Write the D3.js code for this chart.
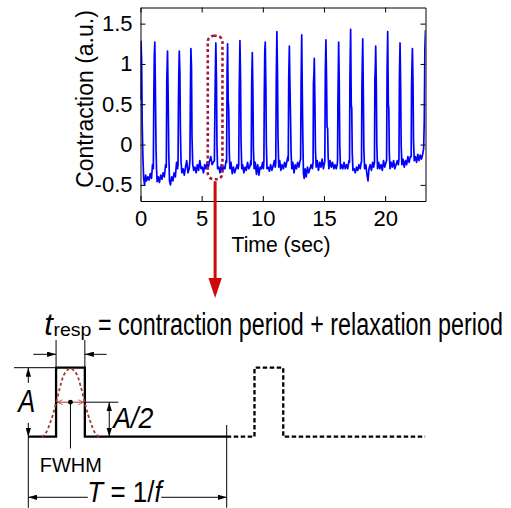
<!DOCTYPE html>
<html>
<head>
<meta charset="utf-8">
<script src="https://cdn.jsdelivr.net/npm/d3@7"></script>
<style>
  body { margin: 0; background: #fff; }
  svg { display: block; }
  text { font-family: "Liberation Sans", Arial, sans-serif; fill: #000; }
</style>
</head>
<body>
<div id="chart"></div>
<script>
// contraction trace: [time (sec), contraction (a.u.)]
const contraction = [
  [0.00,0.55],[0.04,1.28],[0.09,1.05],[0.14,0.25],[0.19,-0.12],[0.26,-0.42],[0.33,-0.5],[0.42,-0.38],[0.5,-0.45],[0.6,-0.4],[0.7,-0.44],[0.8,-0.36],[0.9,-0.42],[0.98,-0.25],
  [1.05,-0.3],[1.09,0.6],[1.13,1.1],[1.17,1.27],[1.22,0.65],[1.27,-0.05],[1.31,-0.3],[1.36,-0.46],[1.45,-0.4],[1.55,-0.47],[1.65,-0.38],[1.75,-0.43],[1.85,-0.35],[1.95,-0.4],[2.05,-0.25],
  [2.11,-0.28],[2.15,0.8],[2.21,1.16],[2.26,0.6],[2.31,-0.1],[2.37,-0.45],[2.45,-0.5],[2.55,-0.4],[2.65,-0.45],[2.75,-0.35],[2.85,-0.4],[2.95,-0.22],[3.02,-0.3],
  [3.07,-0.25],[3.10,0.5],[3.13,0.85],[3.17,1.16],[3.22,0.9],[3.26,0.2],[3.31,-0.2],[3.38,-0.35],[3.48,-0.3],[3.58,-0.38],[3.68,-0.28],[3.78,-0.2],[3.88,-0.35],[3.98,-0.3],
  [4.04,-0.2],[4.08,0.6],[4.12,1.19],[4.17,0.95],[4.21,0.1],[4.27,-0.25],[4.35,-0.32],[4.45,-0.28],[4.55,-0.35],[4.65,-0.25],[4.75,-0.32],[4.85,-0.2],[4.95,-0.3],[5.05,-0.28],[5.15,-0.35],[5.25,-0.25],[5.35,-0.3],[5.45,-0.22],[5.55,-0.28],[5.65,-0.2],[5.75,-0.15],[5.85,-0.25],[5.95,-0.22],
  [6.04,-0.2],[6.08,0.4],[6.12,0.9],[6.16,1.26],[6.21,0.8],[6.25,0.0],[6.3,-0.3],[6.4,-0.28],[6.5,-0.35],[6.6,-0.25],[6.7,-0.33],[6.8,-0.28],[6.9,-0.3],[7.0,-0.2],
  [7.04,-0.22],[7.08,0.9],[7.12,1.25],[7.17,0.55],[7.21,0.45],[7.26,-0.1],[7.31,-0.3],[7.4,-0.22],[7.5,-0.36],[7.6,-0.28],[7.7,-0.35],[7.8,-0.3],[7.9,-0.25],[7.98,-0.3],
  [8.03,-0.25],[8.07,0.65],[8.1,0.97],[8.13,1.29],[8.18,0.8],[8.22,0.05],[8.28,-0.3],[8.35,-0.25],[8.45,-0.35],[8.55,-0.28],[8.65,-0.32],[8.75,-0.22],[8.85,-0.3],[8.95,-0.27],[9.02,-0.2],
  [9.05,-0.25],[9.09,0.75],[9.14,1.14],[9.19,0.65],[9.23,-0.05],[9.29,-0.3],[9.38,-0.22],[9.48,-0.37],[9.58,-0.25],[9.68,-0.38],[9.78,-0.28],[9.88,-0.3],[9.98,-0.22],[10.05,-0.3],
  [10.09,-0.2],[10.12,0.6],[10.16,1.16],[10.2,1.27],[10.25,0.7],[10.29,0.0],[10.34,-0.3],[10.44,-0.28],[10.54,-0.33],[10.64,-0.25],[10.74,-0.32],[10.84,-0.27],[10.94,-0.2],[11.02,-0.28],
  [11.06,-0.22],[11.1,0.8],[11.15,1.4],[11.2,0.9],[11.24,0.1],[11.3,-0.28],[11.38,-0.2],[11.48,-0.32],[11.58,-0.25],[11.68,-0.3],[11.78,-0.22],[11.88,-0.28],[11.98,-0.2],[12.05,-0.15],
  [12.08,-0.2],[12.12,0.85],[12.17,1.22],[12.22,0.72],[12.27,0.3],[12.31,-0.1],[12.37,-0.3],[12.45,-0.22],[12.55,-0.35],[12.65,-0.25],[12.75,-0.3],[12.85,-0.22],[12.95,-0.28],[13.05,-0.2],
  [13.09,-0.18],[13.13,0.77],[13.18,1.36],[13.23,0.6],[13.27,0.1],[13.32,-0.35],[13.38,-0.42],[13.46,-0.3],[13.55,-0.4],[13.65,-0.28],[13.75,-0.35],[13.85,-0.3],[13.95,-0.25],[14.05,-0.3],
  [14.11,-0.22],[14.14,0.76],[14.18,0.88],[14.21,1.07],[14.26,0.5],[14.3,-0.05],[14.36,-0.28],[14.45,-0.2],[14.55,-0.32],[14.65,-0.22],[14.75,-0.28],[14.85,-0.18],[14.95,-0.3],[15.05,-0.22],
  [15.07,-0.2],[15.11,0.9],[15.16,1.3],[15.21,0.8],[15.25,0.22],[15.3,0.2],[15.34,-0.15],[15.4,-0.3],[15.5,-0.2],[15.6,-0.28],[15.7,-0.22],[15.8,-0.3],[15.9,-0.25],[16.0,-0.3],[16.08,-0.25],
  [16.11,-0.2],[16.14,0.52],[16.17,0.9],[16.2,1.27],[16.25,0.75],[16.29,0.0],[16.35,-0.3],[16.44,-0.25],[16.54,-0.3],[16.64,-0.22],[16.74,-0.3],[16.84,-0.25],[16.94,-0.3],[17.04,-0.2],
  [17.09,-0.22],[17.12,0.8],[17.15,1.14],[17.18,1.43],[17.23,0.5],[17.27,0.45],[17.31,-0.1],[17.37,-0.32],[17.46,-0.3],[17.56,-0.35],[17.66,-0.28],[17.76,-0.32],[17.86,-0.25],[17.96,-0.3],[18.04,-0.22],
  [18.07,-0.22],[18.1,0.7],[18.13,0.97],[18.17,1.31],[18.22,0.6],[18.26,-0.05],[18.32,-0.3],[18.42,-0.25],[18.52,-0.38],[18.6,-0.45],[18.68,-0.3],[18.78,-0.25],[18.88,-0.32],[18.98,-0.22],[19.06,-0.28],
  [19.13,-0.22],[19.16,0.8],[19.2,0.97],[19.23,1.22],[19.28,0.7],[19.32,0.0],[19.38,-0.3],[19.47,-0.22],[19.57,-0.3],[19.67,-0.25],[19.77,-0.32],[19.87,-0.2],[19.97,-0.28],[20.07,-0.22],
  [20.12,-0.2],[20.16,0.9],[20.21,1.4],[20.26,0.5],[20.3,0.45],[20.34,-0.1],[20.4,-0.3],[20.49,-0.22],[20.59,-0.28],[20.69,-0.2],[20.79,-0.3],[20.89,-0.25],[20.99,-0.2],[21.08,-0.25],
  [21.13,-0.18],[21.17,0.85],[21.22,1.26],[21.27,0.7],[21.31,0.0],[21.37,-0.25],[21.46,-0.18],[21.56,-0.28],[21.66,-0.2],[21.76,-0.25],[21.86,-0.15],[21.96,-0.22],[22.06,-0.15],
  [22.13,-0.15],[22.16,0.7],[22.19,0.95],[22.23,1.19],[22.28,0.75],[22.32,0.05],[22.38,-0.2],[22.47,-0.15],[22.57,-0.22],[22.67,-0.12],[22.77,-0.2],[22.87,-0.13],[22.97,-0.18],[23.07,-0.12],[23.15,-0.05],
  [23.2,0.3],[23.25,1.2],[23.3,1.42]
];

const xTicks = [0, 5, 10, 15, 20];
const yTicks = [-0.5, 0, 0.5, 1, 1.5];
const xAxisTitle = 'Time (sec)';
const yAxisTitle = 'Contraction (a.u.)';

// zoomed-in window: [t0, t1, v0, v1]
const highlight = [5.5, 6.7, -0.43, 1.35];

// schematic, in units of one period (x) and amplitude A (y)
const pulse = [[0, 0], [0.14, 0], [0.14, 1], [0.285, 1], [0.285, 0], [1, 0]];
const pulseNext = [[1, 0], [1.14, 0], [1.14, 1], [1.285, 1], [1.285, 0], [2, 0]];
const gaussian = [[0.068,0],[0.09,0.06],[0.11,0.2],[0.125,0.33],[0.141,0.5],[0.16,0.72],[0.18,0.9],[0.2125,0.985],
                  [0.245,0.9],[0.265,0.72],[0.284,0.5],[0.3,0.33],[0.315,0.2],[0.335,0.06],[0.357,0]];

const figure_width = 511, figure_height = 508;
const plot = { left: 140.5, top: 7.5, width: 285, height: 193.5 };

const svg = d3.select('#chart').append('svg')
  .attr('width', figure_width)
  .attr('height', figure_height);

const defs = svg.append('defs');
defs.append('marker')
    .attr('id', 'ah').attr('viewBox', '0 0 10 6')
    .attr('refX', 10).attr('refY', 3)
    .attr('markerUnits', 'userSpaceOnUse')
    .attr('markerWidth', 9).attr('markerHeight', 5.5)
    .attr('orient', 'auto-start-reverse')
  .append('path').attr('d', 'M0,0L10,3L0,6Z').attr('fill', '#000');
defs.append('marker')
    .attr('id', 'chev').attr('viewBox', '0 0 8 8')
    .attr('refX', 7.5).attr('refY', 4)
    .attr('markerUnits', 'userSpaceOnUse')
    .attr('markerWidth', 6).attr('markerHeight', 6)
    .attr('orient', 'auto-start-reverse')
  .append('path').attr('d', 'M0,0.8L7.5,4L0,7.2').attr('fill', 'none')
    .attr('stroke', '#9c3d2e').attr('stroke-width', 1);
defs.append('clipPath').attr('id', 'clip')
  .append('rect').attr('width', plot.width).attr('height', plot.height);

// ---- top: measured contraction ----
const x = d3.scaleLinear().domain([0, 23.3]).range([0, plot.width]);
const y = d3.scaleLinear().domain([-0.7, 1.7]).range([plot.height, 0]);

const g = svg.append('g').attr('transform', `translate(${plot.left},${plot.top})`);

g.append('path')
  .datum(contraction)
  .attr('clip-path', 'url(#clip)')
  .attr('fill', 'none')
  .attr('stroke', '#0000ff')
  .attr('stroke-width', 1.7)
  .attr('stroke-linejoin', 'round')
  .attr('d', d3.line().x(d => x(d[0])).y(d => y(d[1])));

function styleAxis(sel) {
  sel.attr('font-size', 22).attr('font-family', '"Liberation Sans", Arial, sans-serif');
  sel.selectAll('line, path').attr('stroke', '#000').attr('stroke-width', 1);
}

g.append('g').attr('transform', `translate(0,${plot.height})`)
  .call(d3.axisBottom(x).tickValues(xTicks).tickSizeInner(-5).tickSizeOuter(0).tickPadding(9))
  .call(styleAxis);
g.append('g')
  .call(d3.axisTop(x).tickValues(xTicks).tickSizeInner(-5).tickSizeOuter(0).tickFormat(''))
  .call(styleAxis);
g.append('g')
  .call(d3.axisLeft(y).tickValues(yTicks).tickSizeInner(-5).tickSizeOuter(0).tickPadding(8).tickFormat(d => String(d)))
  .call(styleAxis);
g.append('g').attr('transform', `translate(${plot.width},0)`)
  .call(d3.axisRight(y).tickValues(yTicks).tickSizeInner(-5).tickSizeOuter(0).tickFormat(''))
  .call(styleAxis);

// squeeze a text horizontally to the width it has in the picture
function fit(sel, px, py, width) {
  const w = sel.node().getComputedTextLength();
  sel.attr('transform', `translate(${px},${py}) scale(${width / w},1)`);
  return sel;
}

fit(svg.append('text').attr('text-anchor', 'middle').attr('font-size', 22).text(xAxisTitle), 281, 252, 99);
svg.append('text')
  .attr('transform', 'translate(93,99) rotate(-90)')
  .attr('text-anchor', 'middle')
  .attr('font-size', 23)
  .text(yAxisTitle);

// dashed window and the arrow that leads to the schematic
g.append('rect')
  .attr('x', x(highlight[0])).attr('y', y(highlight[3]))
  .attr('width', x(highlight[1]) - x(highlight[0]))
  .attr('height', y(highlight[2]) - y(highlight[3]))
  .attr('rx', 6)
  .attr('fill', 'none')
  .attr('stroke', '#a11d3b')
  .attr('stroke-width', 2.6)
  .attr('stroke-dasharray', '3,2.6');

const ax = plot.left + x((highlight[0] + highlight[1]) / 2);
const ay = plot.top + y(highlight[2]);
svg.append('line')
  .attr('x1', ax).attr('x2', ax).attr('y1', ay + 2).attr('y2', 282)
  .attr('stroke', '#cc0a0a').attr('stroke-width', 3);
svg.append('path')
  .attr('d', `M${ax - 6.7},278L${ax + 6.7},278L${ax},298Z`)
  .attr('fill', '#cc0a0a');

// ---- bottom: schematic ----
const sx = d3.scaleLinear().domain([0, 1]).range([28.3, 226.7]);
const sy = d3.scaleLinear().domain([0, 1]).range([436.7, 367.7]);
const sline = d3.line().x(d => sx(d[0])).y(d => sy(d[1]));

function seg(x1, y1, x2, y2, attrs) {
  const l = svg.append('line')
    .attr('x1', sx(x1)).attr('y1', sy(y1))
    .attr('x2', sx(x2)).attr('y2', sy(y2))
    .attr('stroke', '#000').attr('stroke-width', 1);
  Object.entries(attrs || {}).forEach(([k, v]) => l.attr(k, v));
  return l;
}

// guides
seg(-0.072, 1, 0.14, 1);
seg(0.285, 0.5, 0.454, 0.5);
seg(0.14, 1, 0.14, 1.4);
seg(0.285, 1, 0.285, 1.4);
seg(0, 0, 0, -1.03);
seg(1, 0.17, 1, -1.03);
seg(0.2125, 0.5, 0.2125, -0.17);

// arrows
seg(0, 0.78, 0, 1, { 'marker-end': 'url(#ah)' });
seg(0, 0.2, 0, 0, { 'marker-end': 'url(#ah)' });
seg(0.408, 0.5, 0.408, 0, { 'marker-start': 'url(#ah)', 'marker-end': 'url(#ah)' });
seg(0.025, 1.194, 0.14, 1.194, { 'marker-end': 'url(#ah)' });
seg(0.395, 1.194, 0.285, 1.194, { 'marker-end': 'url(#ah)' });
seg(0.3, -0.878, 0, -0.878, { 'marker-end': 'url(#ah)' });
seg(0.67, -0.878, 1, -0.878, { 'marker-end': 'url(#ah)' });

// pulses
svg.append('path').datum(pulse)
  .attr('d', sline).attr('fill', 'none')
  .attr('stroke', '#000').attr('stroke-width', 2.3);
svg.append('path').datum(pulseNext)
  .attr('d', sline).attr('fill', 'none')
  .attr('stroke', '#000').attr('stroke-width', 2.3)
  .attr('stroke-dasharray', '4.5,2.5');

// gaussian fit and FWHM
svg.append('path').datum(gaussian)
  .attr('d', sline.curve(d3.curveMonotoneX)).attr('fill', 'none')
  .attr('stroke', '#9c3d2e').attr('stroke-width', 1.8)
  .attr('stroke-dasharray', '3,2.5');
seg(0.145, 0.5, 0.28, 0.5, { stroke: '#9c3d2e', 'marker-start': 'url(#chev)', 'marker-end': 'url(#chev)' });
svg.append('circle')
  .attr('cx', sx(0.2125)).attr('cy', sy(0.5)).attr('r', 2.4).attr('fill', '#000');

// labels
svg.append('text').attr('x', 44.3).attr('y', 335)
  .attr('font-size', 31).attr('font-style', 'italic').text('t');
fit(svg.append('text').attr('font-size', 19).text('resp'), 53.5, 336, 38);
fit(svg.append('text').attr('font-size', 31).text('= contraction period + relaxation period'), 98, 335, 405);

fit(svg.append('text').attr('font-size', 32).attr('font-style', 'italic').text('A'), 18.3, 411.7, 17);
fit(svg.append('text').attr('font-size', 30).attr('font-style', 'italic').text('A/2'), 113.3, 428.3, 40);
fit(svg.append('text').attr('text-anchor', 'middle').attr('font-size', 21).text('FWHM'), 70.8, 471.7, 62);

const tLabel = svg.append('text').attr('font-size', 29);
tLabel.append('tspan').attr('font-style', 'italic').text('T');
tLabel.append('tspan').text(' = 1/');
tLabel.append('tspan').attr('font-style', 'italic').text('f');
fit(tLabel, 87.3, 501.5, 74.4);
</script>
</body>
</html>
